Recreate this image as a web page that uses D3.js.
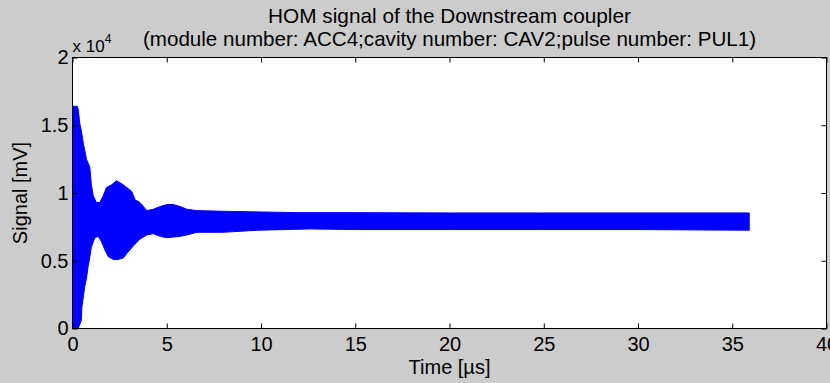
<!DOCTYPE html>
<html>
<head>
<meta charset="utf-8">
<script src="https://cdn.jsdelivr.net/npm/d3@7"></script>
<style>
  html, body { margin: 0; padding: 0; background: #cccccc; }
  svg { display: block; font-family: "Liberation Sans", Arial, Helvetica, sans-serif; }
</style>
</head>
<body>
<svg id="chart" width="830" height="383"></svg>
<script>
// Envelope of the HOM signal (mV) versus time (µs): upper and lower edges of the oscillation band
const upperTime   = [0, 0.25, 0.3, 0.39, 0.48, 0.57, 0.74, 0.92, 1.0, 1.1, 1.27, 1.45, 1.63, 1.8, 2.07, 2.33, 2.6, 2.88, 3.15, 3.32, 3.58, 3.76, 3.94, 4.29, 4.65, 5.0, 5.36, 5.71, 6.07, 6.6, 8, 10, 12, 15, 20, 25, 30, 35.9];
const upperSignal = [16400, 16400, 16200, 15100, 14500, 13700, 12500, 11900, 10600, 9800, 9300, 9300, 9800, 10400, 10600, 10900, 10700, 10400, 10100, 9500, 9300, 9000, 8700, 8800, 9000, 9150, 9150, 9000, 8800, 8700, 8650, 8600, 8550, 8550, 8530, 8530, 8530, 8530];
const lowerTime   = [0, 0.3, 0.47, 0.5, 0.65, 0.74, 0.83, 0.92, 1.0, 1.18, 1.36, 1.54, 1.72, 1.9, 2.16, 2.42, 2.69, 2.92, 3.23, 3.58, 3.94, 4.29, 4.65, 5.0, 5.36, 5.71, 6.07, 6.6, 8, 9.8, 12.6, 15, 20, 25, 30, 35.9];
const lowerSignal = [0, 0, 600, 1600, 3100, 3700, 4600, 5300, 6000, 6700, 6800, 6400, 5800, 5300, 5100, 5100, 5200, 5600, 6100, 6600, 6900, 7000, 6800, 6700, 6750, 6800, 6900, 7100, 7100, 7250, 7350, 7300, 7300, 7300, 7300, 7250];

const xTicks = [0, 5, 10, 15, 20, 25, 30, 35, 40];
const yTicks = [0, 5000, 10000, 15000, 20000];

const titleLines = ["HOM signal of the Downstream coupler",
                    "(module number: ACC4;cavity number: CAV2;pulse number: PUL1)"];
const xLabel = "Time [\u00b5s]";
const yLabel = "Signal [mV]";

const svg = d3.select("#chart");
const W = 830, H = 383;
const plot = { left: 72.5, top: 57.5, right: 826.5, bottom: 328.5 };

svg.append("rect").attr("width", W).attr("height", H).attr("fill", "#cccccc");
svg.append("rect")
  .attr("x", plot.left).attr("y", plot.top)
  .attr("width", plot.right - plot.left).attr("height", plot.bottom - plot.top)
  .attr("fill", "#ffffff");

const x = d3.scaleLinear().domain([0, 40]).range([plot.left, plot.right]);
const y = d3.scaleLinear().domain([0, 20000]).range([plot.bottom, plot.top]);

// Signal band: upper edge forward, lower edge back
const band = upperTime.map((t, i) => [t, upperSignal[i]])
  .concat(lowerTime.map((t, i) => [t, lowerSignal[i]]).reverse());
const line = d3.line().x(d => x(d[0])).y(d => y(d[1]));
svg.append("path")
  .attr("d", line(band) + "Z")
  .attr("fill", "#0000ff")
  .attr("stroke", "#0000ff")
  .attr("stroke-width", 1);

// Axes with inward ticks on all four sides
const fmtY = v => (v / 1e4).toString();
const tickLen = 5;
const axisStyle = g => {
  g.selectAll(".domain").remove();
  g.selectAll(".tick line").attr("stroke", "#000");
  g.selectAll("text").attr("font-size", 20).attr("fill", "#000").attr("font-family", "Liberation Sans, Arial, sans-serif");
};

svg.append("g").attr("transform", `translate(0,${plot.bottom})`)
  .call(d3.axisBottom(x).tickValues(xTicks).tickSizeInner(-tickLen).tickSizeOuter(0).tickPadding(8))
  .call(axisStyle);
svg.append("g").attr("transform", `translate(0,${plot.top})`)
  .call(d3.axisTop(x).tickValues(xTicks).tickSizeInner(-tickLen).tickSizeOuter(0).tickFormat(""))
  .call(axisStyle);
svg.append("g").attr("transform", `translate(${plot.left},0)`)
  .call(d3.axisLeft(y).tickValues(yTicks).tickSizeInner(-tickLen).tickSizeOuter(0).tickPadding(4).tickFormat(fmtY))
  .call(axisStyle);
svg.append("g").attr("transform", `translate(${plot.right},0)`)
  .call(d3.axisRight(y).tickValues(yTicks).tickSizeInner(-tickLen).tickSizeOuter(0).tickFormat(""))
  .call(axisStyle);

// Box
svg.append("rect")
  .attr("x", plot.left).attr("y", plot.top)
  .attr("width", plot.right - plot.left).attr("height", plot.bottom - plot.top)
  .attr("fill", "none").attr("stroke", "#000").attr("stroke-width", 1);

// Exponent label
const expo = svg.append("text").attr("x", plot.left).attr("y", 52)
  .attr("font-size", 17).attr("fill", "#000");
expo.append("tspan").text("x 10");
expo.append("tspan").attr("font-size", 12).attr("dy", -9).text("4");

// Titles
const cx = (plot.left + plot.right) / 2;
svg.append("text").attr("x", cx).attr("y", 23).attr("text-anchor", "middle")
  .attr("font-size", 20.8).attr("fill", "#000").text(titleLines[0]);
svg.append("text").attr("x", cx).attr("y", 46).attr("text-anchor", "middle")
  .attr("font-size", 20.6).attr("fill", "#000").text(titleLines[1]);

// Axis labels
svg.append("text").attr("x", cx).attr("y", 374).attr("text-anchor", "middle")
  .attr("font-size", 20).attr("fill", "#000").text(xLabel);
svg.append("text").attr("transform", "translate(27,193) rotate(-90)").attr("text-anchor", "middle")
  .attr("font-size", 20).attr("fill", "#000").text(yLabel);
</script>
</body>
</html>
